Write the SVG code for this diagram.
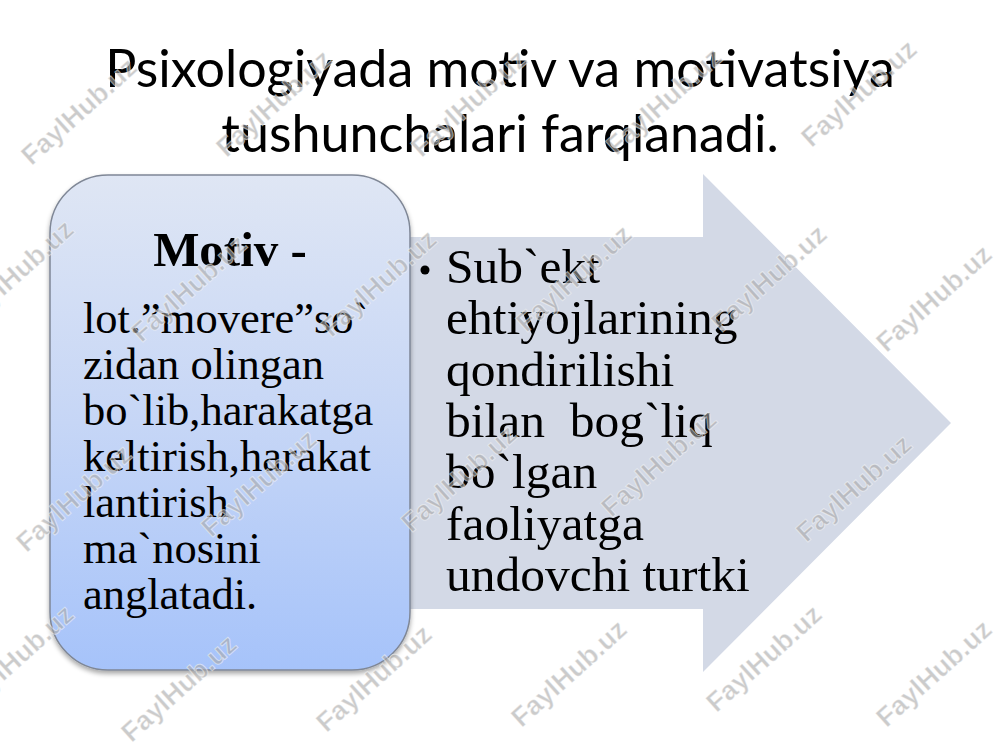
<svg xmlns="http://www.w3.org/2000/svg" width="1000" height="750" viewBox="0 0 1000 750">
  <style>
    .title { font-family: "Lato", "Liberation Sans", sans-serif; font-size: 52px; fill: #000; text-anchor: middle; }
    .serif { font-family: "Liberation Serif", "Times New Roman", serif; fill: #000; }
    .box { font-size: 44.5px; }
    .arr { font-size: 49.5px; }
    .wm { font-family: "Liberation Sans", Arial, sans-serif; font-weight: bold; font-size: 27px; fill: #a8a8a8; fill-opacity: 0.6; stroke: #ffffff; stroke-opacity: 0.5; stroke-width: 1; text-anchor: middle; }
  </style>
  <defs>
    <linearGradient id="boxGrad" x1="0" y1="0" x2="0" y2="1">
      <stop offset="0" stop-color="#dfe6f4"/>
      <stop offset="0.5" stop-color="#c6d6f6"/>
      <stop offset="1" stop-color="#a6c3fa"/>
    </linearGradient>
    <filter id="shadow" x="-10%" y="-10%" width="120%" height="120%">
      <feGaussianBlur in="SourceAlpha" stdDeviation="2.5"/>
      <feOffset dx="0" dy="3" result="b"/>
      <feComponentTransfer><feFuncA type="linear" slope="0.35"/></feComponentTransfer>
      <feMerge><feMergeNode/><feMergeNode in="SourceGraphic"/></feMerge>
    </filter>
  </defs>
  <rect width="1000" height="750" fill="#ffffff"/>

  <g id="title">
    <text class="title" x="500" y="87">Psixologiyada motiv va motivatsiya</text>
    <text class="title" x="500" y="152">tushunchalari farqlanadi.</text>
  </g>

  <g id="arrow-node">
    <polygon points="380,237 703,237 703,174 951,423 703,672 703,609 380,609" fill="#d3d9e6"/>
    <circle cx="425" cy="270" r="4.5" fill="#000"/>
    <text class="serif arr" x="446" y="283">Sub`ekt</text>
    <text class="serif arr" x="446" y="334">ehtiyojlarining</text>
    <text class="serif arr" x="446" y="386">qondirilishi</text>
    <text class="serif arr" x="446" y="437" xml:space="preserve">bilan  bog`liq</text>
    <text class="serif arr" x="446" y="488">bo`lgan</text>
    <text class="serif arr" x="446" y="540">faoliyatga</text>
    <text class="serif arr" x="446" y="591">undovchi turtki</text>
  </g>

  <g id="motiv-node">
    <rect x="50" y="175" width="360" height="495" rx="58" ry="58" fill="url(#boxGrad)" stroke="#7f8796" stroke-width="1.5" filter="url(#shadow)"/>
    <text class="serif" x="230" y="266" font-size="49" font-weight="bold" text-anchor="middle">Motiv -</text>
    <text class="serif box" x="83" y="333">lot.”movere”so`</text>
    <text class="serif box" x="83" y="379">zidan olingan</text>
    <text class="serif box" x="83" y="425">bo`lib,harakatga</text>
    <text class="serif box" x="83" y="471">keltirish,harakat</text>
    <text class="serif box" x="83" y="517">lantirish</text>
    <text class="serif box" x="83" y="563">ma`nosini</text>
    <text class="serif box" x="83" y="609">anglatadi.</text>
  </g>

  <g id="connectors"></g>

  <g id="watermarks">
    <text class="wm" transform="translate(85,118) rotate(-42)">FaylHub.uz</text>
    <text class="wm" transform="translate(280,110) rotate(-42)">FaylHub.uz</text>
    <text class="wm" transform="translate(475,110) rotate(-42)">FaylHub.uz</text>
    <text class="wm" transform="translate(670,108) rotate(-42)">FaylHub.uz</text>
    <text class="wm" transform="translate(865,100) rotate(-42)">FaylHub.uz</text>
    <text class="wm" transform="translate(22,280) rotate(-42)">FaylHub.uz</text>
    <text class="wm" transform="translate(195,295) rotate(-42)">FaylHub.uz</text>
    <text class="wm" transform="translate(385,290) rotate(-42)">FaylHub.uz</text>
    <text class="wm" transform="translate(580,285) rotate(-42)">FaylHub.uz</text>
    <text class="wm" transform="translate(775,285) rotate(-42)">FaylHub.uz</text>
    <text class="wm" transform="translate(940,305) rotate(-42)">FaylHub.uz</text>
    <text class="wm" transform="translate(80,505) rotate(-42)">FaylHub.uz</text>
    <text class="wm" transform="translate(265,490) rotate(-42)">FaylHub.uz</text>
    <text class="wm" transform="translate(465,485) rotate(-42)">FaylHub.uz</text>
    <text class="wm" transform="translate(665,470) rotate(-42)">FaylHub.uz</text>
    <text class="wm" transform="translate(860,495) rotate(-42)">FaylHub.uz</text>
    <text class="wm" transform="translate(22,665) rotate(-42)">FaylHub.uz</text>
    <text class="wm" transform="translate(185,695) rotate(-42)">FaylHub.uz</text>
    <text class="wm" transform="translate(380,685) rotate(-42)">FaylHub.uz</text>
    <text class="wm" transform="translate(575,680) rotate(-42)">FaylHub.uz</text>
    <text class="wm" transform="translate(770,665) rotate(-42)">FaylHub.uz</text>
    <text class="wm" transform="translate(940,680) rotate(-42)">FaylHub.uz</text>
  </g>
</svg>
